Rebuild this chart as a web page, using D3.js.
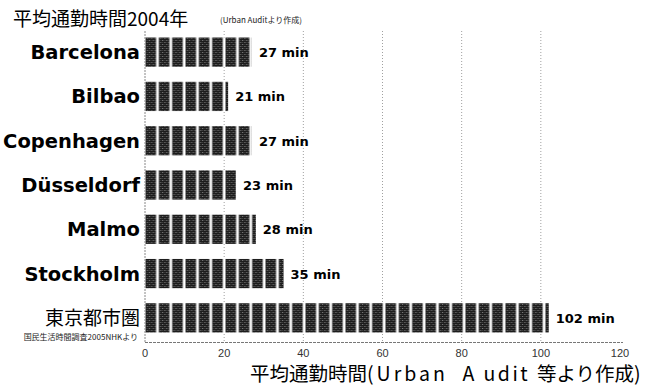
<!DOCTYPE html>
<html>
<head>
<meta charset="utf-8">
<script src="https://cdn.jsdelivr.net/npm/d3@7"></script>
<style>
  html, body { margin: 0; padding: 0; background: #fff; }
  svg { display: block; }
</style>
</head>
<body>
<svg id="chart" width="653" height="386"></svg>
<script>
// Commute times (minutes), 2004
const cities = ["Barcelona", "Bilbao", "Copenhagen", "Düsseldorf", "Malmo", "Stockholm", "東京都市圏"];
const minutes = [27, 21, 27, 23, 28, 35, 102];
const valueLabels = ["27 min", "21 min", "27 min", "23 min", "28 min", "35 min", "102 min"];
const tickValues = [0, 20, 40, 60, 80, 100, 120];
const gridValues = [20, 40, 60, 80, 100];

const svg = d3.select("#chart");
const plot = { left: 145, right: 620, top: 31, bottom: 342 };

const x = d3.scaleLinear().domain([0, 120]).range([plot.left, plot.right]);
const y = d3.scaleBand().domain(cities).range([30, 340]).paddingInner(0.34).paddingOuter(0.17);

// Fill patterns: fine dither inside each block, blocks repeated along the bar
const defs = svg.append("defs");
const dither = defs.append("pattern")
  .attr("id", "dither").attr("patternUnits", "userSpaceOnUse")
  .attr("width", 4).attr("height", 4);
dither.append("rect").attr("width", 4).attr("height", 4).attr("fill", "#1c1c1c");
dither.append("rect").attr("x", 0).attr("y", 0).attr("width", 1).attr("height", 1).attr("fill", "#8a8a8a");
dither.append("rect").attr("x", 2).attr("y", 2).attr("width", 1).attr("height", 1).attr("fill", "#8a8a8a");
dither.append("rect").attr("x", 2).attr("y", 0).attr("width", 1).attr("height", 1).attr("fill", "#444");
dither.append("rect").attr("x", 0).attr("y", 2).attr("width", 1).attr("height", 1).attr("fill", "#444");

const blockW = 13.33;
const blocks = defs.append("pattern")
  .attr("id", "blocks").attr("patternUnits", "userSpaceOnUse")
  .attr("x", x(0)).attr("y", 0)
  .attr("width", blockW).attr("height", 400);
blocks.append("rect").attr("width", blockW).attr("height", 400).attr("fill", "#fff");
blocks.append("rect").attr("x", 0.5).attr("y", 0).attr("width", blockW - 2.6).attr("height", 400)
  .attr("fill", "url(#dither)").attr("stroke", "#9a9a9a").attr("stroke-width", 0.8);

// Gridlines
svg.append("g").selectAll("line").data(gridValues).join("line")
  .attr("x1", d => x(d)).attr("x2", d => x(d))
  .attr("y1", plot.top).attr("y2", plot.bottom)
  .attr("stroke", "#a0a0a0").attr("stroke-width", 1)
  .attr("stroke-dasharray", "1,2");

// Bars
svg.append("g").selectAll("rect").data(cities).join("rect")
  .attr("x", x(0))
  .attr("y", d => y(d))
  .attr("width", (d, i) => x(minutes[i]) - x(0))
  .attr("height", y.bandwidth())
  .attr("fill", "url(#blocks)");

// Axis lines
svg.append("line")
  .attr("x1", x(0)).attr("x2", x(0)).attr("y1", plot.top).attr("y2", plot.bottom)
  .attr("stroke", "#888").attr("stroke-width", 1).attr("stroke-dasharray", "2,1");
svg.append("line")
  .attr("x1", x(0)).attr("x2", plot.right + 3).attr("y1", plot.bottom + 0.5).attr("y2", plot.bottom + 0.5)
  .attr("stroke", "#777").attr("stroke-width", 1).attr("stroke-dasharray", "3,1");

// X tick labels
svg.append("g").selectAll("text").data(tickValues).join("text")
  .attr("x", d => x(d)).attr("y", 357)
  .attr("text-anchor", "middle")
  .attr("font-family", "'Liberation Sans', Arial, sans-serif")
  .attr("font-size", 11).attr("fill", "#333")
  .text(d => d);

// Category labels
svg.append("g").selectAll("text").data(cities).join("text")
  .attr("x", 140)
  .attr("y", d => y(d) + y.bandwidth() / 2 + 7)
  .attr("text-anchor", "end")
  .attr("font-family", (d, i) => i === cities.length - 1 ? "'Noto Sans CJK JP', sans-serif" : "'DejaVu Sans', sans-serif")
  .attr("font-weight", (d, i) => i === cities.length - 1 ? "normal" : "bold")
  .attr("font-size", (d, i) => i === cities.length - 1 ? 19 : 19.5)
  .attr("fill", "#000")
  .text(d => d);

// Source note under the Tokyo label
svg.append("text")
  .attr("x", 138).attr("y", 340)
  .attr("text-anchor", "end")
  .attr("font-family", "'Noto Sans CJK JP', sans-serif")
  .attr("font-size", 8).attr("fill", "#222")
  .text("国民生活時間調査2005NHKより");

// Value labels
svg.append("g").selectAll("text").data(cities).join("text")
  .attr("x", (d, i) => x(minutes[i]) + 7)
  .attr("y", d => y(d) + y.bandwidth() / 2 + 5)
  .attr("font-family", "'DejaVu Sans', sans-serif")
  .attr("font-weight", "bold").attr("font-size", 13)
  .attr("fill", "#000")
  .text((d, i) => valueLabels[i]);

// Title and subtitle
svg.append("text")
  .attr("x", 13).attr("y", 26)
  .attr("font-family", "'Noto Sans CJK JP', sans-serif")
  .attr("font-size", 19).attr("fill", "#000")
  .text("平均通勤時間2004年");
svg.append("text")
  .attr("x", 220).attr("y", 23)
  .attr("font-family", "'Noto Sans CJK JP', sans-serif")
  .attr("font-size", 8).attr("fill", "#222")
  .text("(Urban Auditより作成)");

// X axis title: the Latin part is set with wide tracking
const xTitle = svg.append("text")
  .attr("x", 250).attr("y", 381)
  .attr("font-family", "'Noto Sans CJK JP', sans-serif")
  .attr("font-size", 19.5).attr("fill", "#000")
  .style("white-space", "pre");
xTitle.append("tspan").text("平均通勤時間");
xTitle.append("tspan").attr("letter-spacing", 3).text("(Urban  ");
xTitle.append("tspan").attr("letter-spacing", 9).text("A");
xTitle.append("tspan").attr("letter-spacing", 2.5).text("udit ");
xTitle.append("tspan").text("等より作成)");
</script>
</body>
</html>
